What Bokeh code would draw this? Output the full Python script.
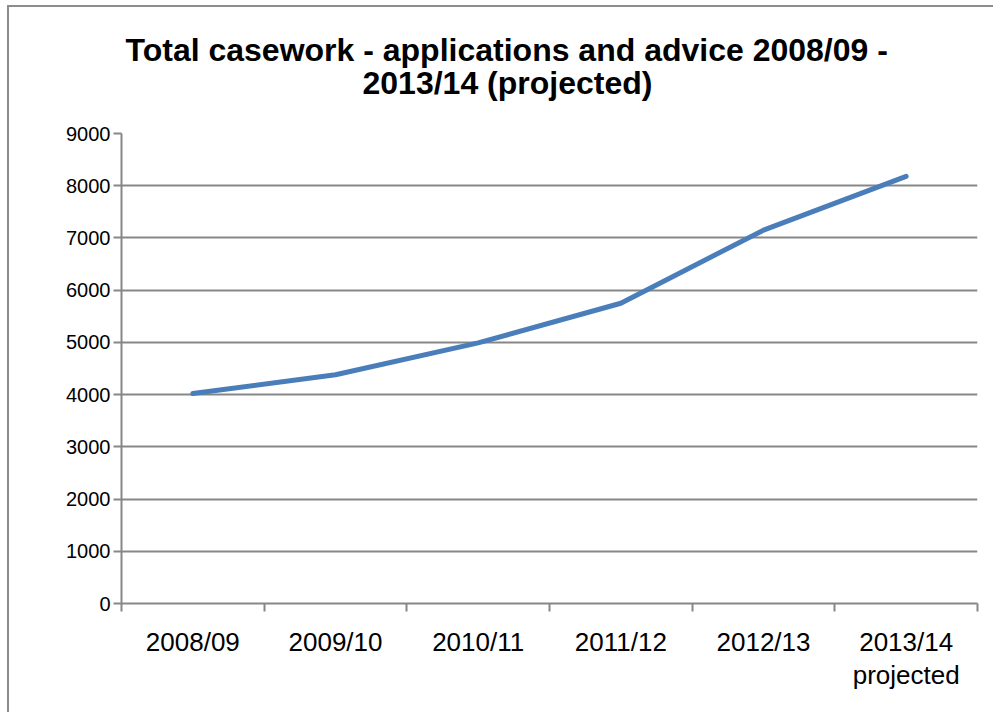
from bokeh.plotting import figure
from bokeh.models import Range1d, FixedTicker, Title
from bokeh.embed import file_html
from bokeh.resources import INLINE

# ---- data ----
years = ["2008/09", "2009/10", "2010/11", "2011/12", "2012/13", "2013/14\nprojected"]
casework = [4020, 4380, 4990, 5750, 7150, 8180]
y_ticks = [0, 1000, 2000, 3000, 4000, 5000, 6000, 7000, 8000, 9000]
title_line1 = "Total casework - applications and advice 2008/09 -"
title_line2 = "2013/14 (projected)"

FONT = "Liberation Sans"
GRAY = "#878787"

n = len(years)
xs = [i + 0.5 for i in range(n)]

p = figure(width=993, height=712, output_backend="svg", toolbar_location=None,
           x_range=Range1d(0, n), y_range=Range1d(0, y_ticks[-1]),
           min_border_left=121, min_border_right=16, min_border_top=133,
           min_border_bottom=109)
p.outline_line_color = None
p.background_fill_color = "white"
p.border_fill_color = None
# chart-area border (left and top edges, as in the reference)
p.styles = {"box-shadow": "inset 7px 5px 0 0 white, inset 9px 7px 0 0 #8c8c8c"}

# y axis
p.yaxis.ticker = FixedTicker(ticks=y_ticks)
p.yaxis.major_label_text_font = FONT
p.yaxis.major_label_text_font_size = "20px"
p.yaxis.major_label_text_color = "black"
p.yaxis.axis_line_color = GRAY
p.yaxis.axis_line_width = 2
p.yaxis.major_tick_line_color = GRAY
p.yaxis.major_tick_line_width = 2
p.yaxis.major_tick_out = 8
p.yaxis.major_tick_in = 0
p.yaxis.minor_tick_line_color = None
p.yaxis.major_label_standoff = 3

# x axis: labels at category centres, ticks at category boundaries
p.xaxis.ticker = FixedTicker(ticks=xs, minor_ticks=list(range(n + 1)))
p.xaxis.major_label_overrides = {x: lab for x, lab in zip(xs, years)}
p.xaxis.major_label_text_font = FONT
p.xaxis.major_label_text_font_size = "26px"
p.xaxis.major_label_text_color = "black"
p.xaxis.major_label_text_line_height = 1.1
p.xaxis.major_label_standoff = 15
p.xaxis.axis_line_color = GRAY
p.xaxis.axis_line_width = 2
p.xaxis.major_tick_line_color = None
p.xaxis.major_tick_out = 0
p.xaxis.major_tick_in = 0
p.xaxis.minor_tick_line_color = GRAY
p.xaxis.minor_tick_line_width = 2
p.xaxis.minor_tick_out = 8
p.xaxis.minor_tick_in = 0

# grid
p.xgrid.visible = False
p.ygrid.ticker = FixedTicker(ticks=y_ticks)
p.ygrid.grid_line_color = GRAY
p.ygrid.grid_line_width = 2

# series
p.line(xs, casework, line_color="#4a7ebb", line_width=5,
       line_cap="round", line_join="round")

# title: two lines, each centred on the chart area (not the plot frame)
spacer = Title(text=" ", text_font_size="20px", standoff=9)
t2 = Title(text=title_line2, align="left", offset=241, standoff=0,
           text_font=FONT, text_font_style="bold", text_font_size="32px",
           text_color="black")
t1 = Title(text=title_line1, align="left", offset=4, standoff=-11,
           text_font=FONT, text_font_style="bold", text_font_size="32px",
           text_color="black")
p.add_layout(spacer, "above")
p.add_layout(t2, "above")
p.add_layout(t1, "above")

open("out.html", "w").write(file_html(p, INLINE))
